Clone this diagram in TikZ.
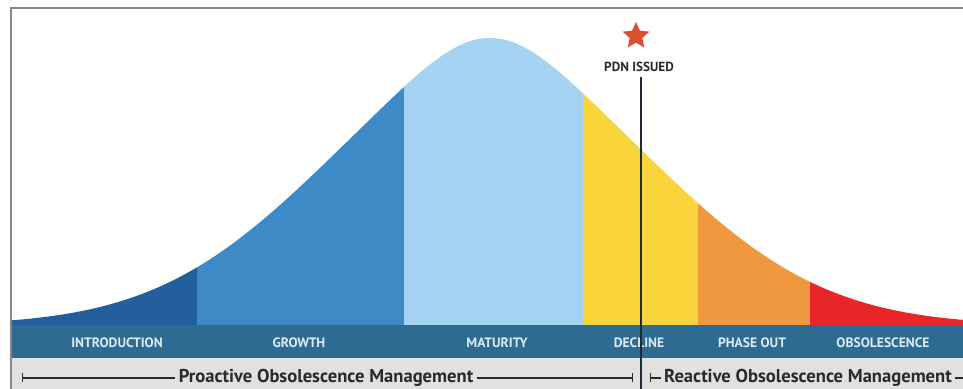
\documentclass[tikz,border=0pt]{standalone}
\usepackage{fontspec}
\setmainfont{PT Sans}
\usetikzlibrary{shapes.geometric,arrows.meta}

\definecolor{introC}{HTML}{235F9C}
\definecolor{growthC}{HTML}{3D8AC7}
\definecolor{matureC}{HTML}{A5D3F1}
\definecolor{declineC}{HTML}{F9D43B}
\definecolor{phaseC}{HTML}{EF983F}
\definecolor{obsC}{HTML}{E8262A}
\definecolor{bandC}{HTML}{2D6B93}
\definecolor{barC}{HTML}{E1E1E1}
\definecolor{frameC}{HTML}{858585}
\definecolor{starC}{HTML}{D9502F}
\definecolor{inkC}{HTML}{2A2A2A}
\definecolor{pdnC}{HTML}{1C2A3A}
\definecolor{bandtextC}{HTML}{DCEAF3}

% one drawing unit = 0.5pt
\tikzset{
  stagelabel/.style={font=\bfseries\fontsize{6.8}{8}\selectfont, text=bandtextC, inner sep=0pt},
  mgmtlabel/.style={font=\bfseries\fontsize{9.3}{11}\selectfont, text=inkC, inner sep=1.5pt},
  mgmtline/.style={draw=inkC, line width=0.55pt},
}

\begin{document}
\begin{tikzpicture}[x=0.5pt, y=-0.5pt]
\useasboundingbox (0,0) rectangle (963,389);
\fill[white] (0,0) rectangle (963,389);

% bell-shaped life cycle curve (peak at 490, baseline at 325), split into stages
\begin{scope}
  \clip (11,326) -- plot[domain=11:963, samples=240, variable=\t]
    (\t, {325 - 27*exp(-((\t-490)/100)^2/0.72) - 260*exp(-((\t-490)/100)^2/5.7)})
    -- (963,326) -- cycle;
  \fill[introC]   (11,0)  rectangle (197,330);
  \fill[growthC]  (197,0) rectangle (404,330);
  \fill[matureC]  (404,0) rectangle (583,330);
  \fill[declineC] (583,0) rectangle (698,330);
  \fill[phaseC]   (698,0) rectangle (810,330);
  \fill[obsC]     (810,0) rectangle (963,330);
\end{scope}

% stage band and management bar
\fill[bandC] (11,325) rectangle (963,358);
\fill[barC]  (11,358) rectangle (963,389);

% frame
\draw[frameC, line width=1pt] (11,389) -- (11,8) -- (963,8);

% stage names
\node[stagelabel] (intro)  at (117,343) {INTRODUCTION};
\node[stagelabel] (growth) at (299,343) {GROWTH};
\node[stagelabel] (mature) at (497,343) {MATURITY};
\node[stagelabel] (decl)   at (639,343) {DECLINE};
\node[stagelabel] (phase)  at (752,343) {PHASE OUT};
\node[stagelabel] (obs)    at (883,343) {OBSOLESCENCE};

% PDN marker
\node[star, star points=5, star point ratio=2.1, fill=starC, minimum size=14pt, inner sep=0pt] (star) at (636,36) {};
\node[font=\bfseries\fontsize{6.6}{7}\selectfont, text=inkC, inner sep=0pt] (pdn) at (639,67) {PDN ISSUED};
\coordinate (pdntop) at (641,77);
\coordinate (pdnbot) at (641,389);
\draw[pdnC, line width=1.3pt] (pdntop) -- (pdnbot);

% management ranges
\node[mgmtlabel] (pro) at (326,378) {Proactive Obsolescence Management};
\coordinate (proL) at (22,378);
\coordinate (proR) at (633,378);
\draw[mgmtline, {Bar[width=4.5pt]}-] (proL) -- (pro.west);
\draw[mgmtline, -{Bar[width=4.5pt]}] (pro.east) -- (proR);

\node[mgmtlabel] (rea) at (808,378) {Reactive Obsolescence Management};
\coordinate (reaL) at (650,378);
\coordinate (reaR) at (963,378);
\draw[mgmtline, {Bar[width=4.5pt]}-] (reaL) -- (rea.west);
\draw[mgmtline] (rea.east) -- (reaR);
\end{tikzpicture}
\end{document}
